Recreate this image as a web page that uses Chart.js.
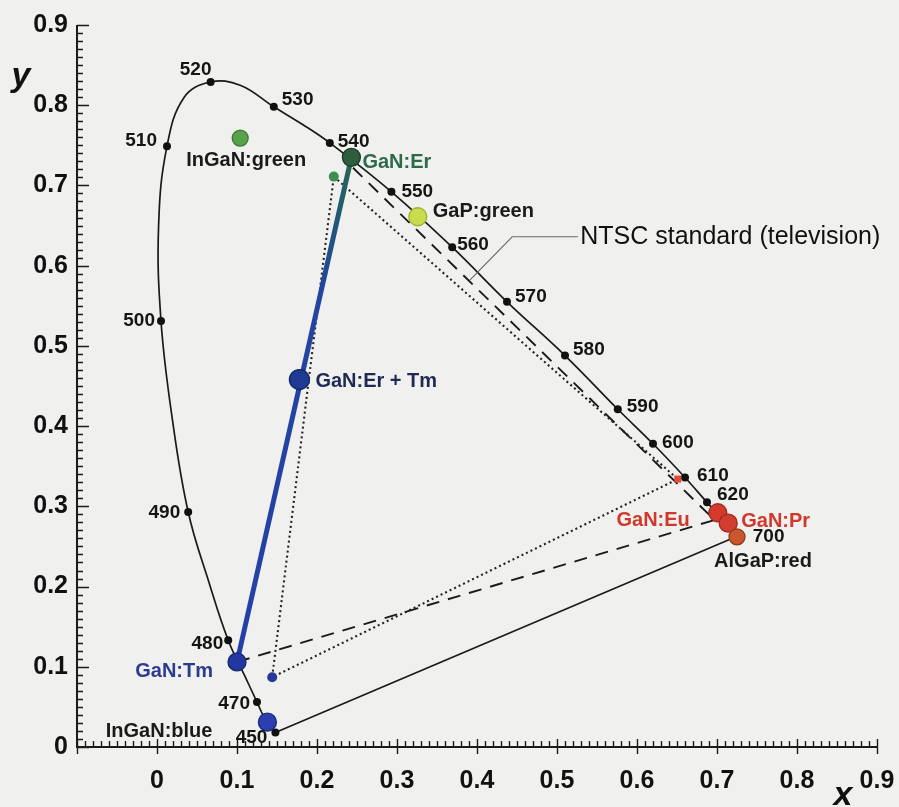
<!DOCTYPE html>
<html><head><meta charset="utf-8">
<script src="https://cdn.jsdelivr.net/npm/chart.js@4.4.0/dist/chart.umd.min.js"></script>
<style>html,body{margin:0;padding:0;background:#f0f1ee;}#wrap{width:899px;height:807px;}</style>
</head><body><div id="wrap"><canvas id="c" width="899" height="807"></canvas></div>
<script>
// ---------- data ----------
const locusNm = [450,460,470,475,480,485,490,495,500,505,510,515,520,525,530,535,540,550,560,570,580,590,600,610,620,700];
const locusX  = [0.148,0.136,0.125,0.110,0.089,0.065,0.039,0.019,0.005,0.002,0.0125,0.034,0.067,0.104,0.146,0.182,0.216,0.293,0.369,0.4375,0.510,0.576,0.620,0.660,0.6875,0.726];
const locusY  = [0.018,0.033,0.056,0.088,0.133,0.205,0.293,0.410,0.531,0.650,0.749,0.810,0.829,0.825,0.798,0.776,0.753,0.692,0.623,0.555,0.488,0.421,0.378,0.336,0.305,0.263];
const markedNm = [450,470,480,490,500,510,520,530,540,550,560,570,580,590,600,610,620,700];

const sourceNames = ['InGaN:green','GaN:Er','GaP:green','GaN:Er + Tm','GaN:Tm','InGaN:blue','GaN:Eu','GaN:Pr','AlGaP:red'];
const sourceX = [0.104,0.243,0.326,0.178,0.100,0.138,0.701,0.714,0.725];
const sourceY = [0.759,0.735,0.661,0.458,0.106,0.031,0.292,0.279,0.262];

const ntscX = [0.221,0.651,0.144];   // NTSC primaries G, R, B
const ntscY = [0.711,0.334,0.087];

const gamutX = [0.245,0.697,0.100];  // dashed gamut: GaN:Er -> red -> GaN:Tm
const gamutY = [0.722,0.283,0.106];

const mixX = [0.243,0.100];          // GaN:Er -- GaN:Tm mixing line
const mixY = [0.735,0.106];

const xTickLabels = [0,0.1,0.2,0.3,0.4,0.5,0.6,0.7,0.8,0.9];
const yTickLabels = [0,0.1,0.2,0.3,0.4,0.5,0.6,0.7,0.8,0.9];
const ntscText = 'NTSC standard (television)';

// ---------- build datasets ----------
const pts = (xs, ys) => xs.map((x,i)=>({x, y:ys[i]}));
const locusPts = pts(locusX, locusY);
const markPts = markedNm.map(n => locusPts[locusNm.indexOf(n)]);
const endA = locusPts[locusNm.indexOf(700)], endB = locusPts[locusNm.indexOf(450)];

const srcFill   = ['#58a24b','#2f5e3f','#c9dc4e','#1f3a93','#2238a0','#2b3fb0','#d63a2e','#d33d2f','#c9562c'];
const srcBorder = ['#3a7a35','#1b3a26','#9fb030','#132865','#15276e','#1b2a7a','#9e2a20','#9e2a20','#8e3a1c'];
const srcRadius = [8,9,9,10,9,9,9,9,8];

const F = '"Liberation Sans", Arial, sans-serif';

function mixGradient(ch){
  const xs = ch.scales.x, ys = ch.scales.y;
  if (!xs || !ys || !ch.chartArea) return '#2441a0';
  const a = xs.getPixelForValue(mixX[0]), b = ys.getPixelForValue(mixY[0]);
  const c2 = xs.getPixelForValue(mixX[1]), d = ys.getPixelForValue(mixY[1]);
  if (![a,b,c2,d].every(Number.isFinite)) return '#2441a0';
  const g = ch.ctx.createLinearGradient(a, b, c2, d);
  g.addColorStop(0, '#2d6650'); g.addColorStop(0.12, '#1f5a78'); g.addColorStop(0.26, '#2345a0'); g.addColorStop(1, '#2440a8');
  return g;
}

const datasets = [
  { data: locusPts, showLine:true, borderColor:'#1a1a1a', borderWidth:1.7, tension:0.4, pointRadius:0, order:9 },
  { data: [endA, endB], showLine:true, borderColor:'#1a1a1a', borderWidth:1.7, pointRadius:0, order:9 },
  { data: [...pts(ntscX,ntscY), pts(ntscX,ntscY)[0]], showLine:true, borderColor:'#222', borderWidth:2.1,
    borderDash:[2,3], pointRadius:0, order:8 },
  { data: pts(gamutX,gamutY), showLine:true, borderColor:'#1a1a1a', borderWidth:1.9, borderDash:[13,9], pointRadius:0, order:8 },
  { data: pts(mixX,mixY), showLine:true, borderWidth:5, pointRadius:0, order:7,
    borderColor: (ctx) => mixGradient(ctx.chart) },
  { data: markPts, showLine:false, pointRadius:4, pointBackgroundColor:'#111', pointBorderWidth:0, order:4 },
  { data: pts(ntscX,ntscY), showLine:false, pointRadius:[5,5,5], pointStyle:['circle','rect','circle'],
    pointBackgroundColor:['#3e8c52','#e24b3c','#27399a'], pointBorderWidth:0, order:3 },
  { data: pts(sourceX,sourceY), showLine:false, pointRadius:srcRadius, pointBackgroundColor:srcFill,
    pointBorderColor:srcBorder, pointBorderWidth:1.3, order:1 }
];

// ---------- annotations (text) ----------
const nmLabelLayout = {
  450:[-8,5,'right'],470:[-7,2,'right'],480:[-5,3,'right'],490:[-8,1,'right'],500:[-6,0,'right'],
  510:[-10,-5,'right'],520:[-15,-12,'center'],530:[8,-7,'left'],540:[8,-1,'left'],550:[10,0,'left'],
  560:[5,-2,'left'],570:[8,-5,'left'],580:[8,-6,'left'],590:[9,-2,'left'],600:[9,-1,'left'],
  610:[12,-2,'left'],620:[10,-8,'left'],700:[15,1,'left']
};
const srcLabelLayout = [
  [6,22,'center','#1a1a1a'],[11,5,'left','#2d6a47'],[15,-5,'left','#1a1a1a'],[16,2,'left','#1e2a55'],
  [-24,10,'right','#2b3b90'],[-55,9,'right','#1a1a1a'],[-28,8,'right','#d0372d'],[13,-2,'left','#d0372d'],
  [26,25,'center','#1a1a1a']
];

const decor = {
  id:'decor',
  beforeDraw(chart){
    const c = chart.ctx; c.save(); c.fillStyle = '#f0f1ee'; c.fillRect(0,0,chart.width,chart.height); c.restore();
  },
  afterDatasetsDraw(chart){
    const c = chart.ctx, xs = chart.scales.x, ys = chart.scales.y;
    const X = v => xs.getPixelForValue(v), Y = v => ys.getPixelForValue(v);
    c.save();
    const x0 = xs.left, x1 = xs.right, yb = ys.bottom, yt = ys.top;
    c.strokeStyle = '#1b1b1b'; c.lineWidth = 2;
    c.beginPath(); c.moveTo(x0, yt); c.lineTo(x0, yb); c.lineTo(x1 + 1, yb); c.stroke();
    c.lineWidth = 1.4; c.beginPath();
    for (let i = 0; i <= 90; i++) {
      const p = Math.round(Y(i/100)) + 0.5, major = i % 10 === 0;
      c.moveTo(x0, p); c.lineTo(x0 + (major ? 12 : 6), p);
    }
    for (let i = -10; i <= 90; i++) {
      const p = Math.round(X(i/100)) + 0.5, major = i % 10 === 0;
      if (major) { c.moveTo(p, yb + 7); c.lineTo(p, yb - 8); }
      else { c.moveTo(p, yb); c.lineTo(p, yb - 6); }
    }
    c.stroke();
    c.fillStyle = '#111'; c.font = 'italic bold 34px ' + F; c.textBaseline = 'middle'; c.textAlign = 'center';
    c.fillText('y', 21, 77);
    c.fillText('x', 843, 796);
    c.strokeStyle = '#6a6a60'; c.lineWidth = 1.1; c.beginPath();
    c.moveTo(X(0.391), Y(0.582)); c.lineTo(X(0.444), Y(0.636)); c.lineTo(X(0.526), Y(0.636)); c.stroke();
    c.fillStyle = '#111'; c.font = '25px ' + F; c.textAlign = 'left'; c.textBaseline = 'middle';
    c.fillText(ntscText, X(0.529), Y(0.636));
    c.font = 'bold 19px ' + F;
    markedNm.forEach(n => {
      const p = locusPts[locusNm.indexOf(n)], L = nmLabelLayout[n];
      c.textAlign = L[2]; c.fillStyle = '#151515';
      c.fillText(String(n), X(p.x) + L[0], Y(p.y) + L[1]);
    });
    c.font = 'bold 20px ' + F;
    sourceNames.forEach((s, i) => {
      const L = srcLabelLayout[i];
      c.textAlign = L[2]; c.fillStyle = L[3];
      c.fillText(s, X(sourceX[i]) + L[0], Y(sourceY[i]) + L[1]);
    });
    c.restore();
  }
};

new Chart(document.getElementById('c'), {
  type: 'scatter',
  data: { datasets },
  options: {
    responsive:false, animation:false, devicePixelRatio:1,
    layout:{ padding:{ top:25, right:22, left:0, bottom:0 } },
    plugins:{ legend:{display:false}, tooltip:{enabled:false} },
    scales:{
      x:{ type:'linear', min:-0.1, max:0.9,
          afterFit: s => { s.height = 60; s.paddingLeft = 0; s.paddingRight = 0; },
          afterBuildTicks: s => { s.ticks = xTickLabels.map(v => ({value:v})); },
          grid:{ display:false, drawTicks:false }, border:{ display:false },
          ticks:{ autoSkip:false, maxRotation:0, padding:19, color:'#111', font:{ family:F, size:25, weight:'bold' },
                  callback: v => (Math.abs(v) < 1e-9 ? '0' : v.toFixed(1)) } },
      y:{ type:'linear', min:0, max:0.9,
          afterFit: s => { s.width = 77; s.paddingTop = 0; s.paddingBottom = 0; },
          afterBuildTicks: s => { s.ticks = yTickLabels.map(v => ({value:v})); },
          grid:{ display:false, drawTicks:false }, border:{ display:false },
          ticks:{ autoSkip:false, padding:9, color:'#111', font:{ family:F, size:25, weight:'bold' },
                  callback: v => (Math.abs(v) < 1e-9 ? '0' : v.toFixed(1)) } }
    }
  },
  plugins:[decor]
});
</script></body></html>
